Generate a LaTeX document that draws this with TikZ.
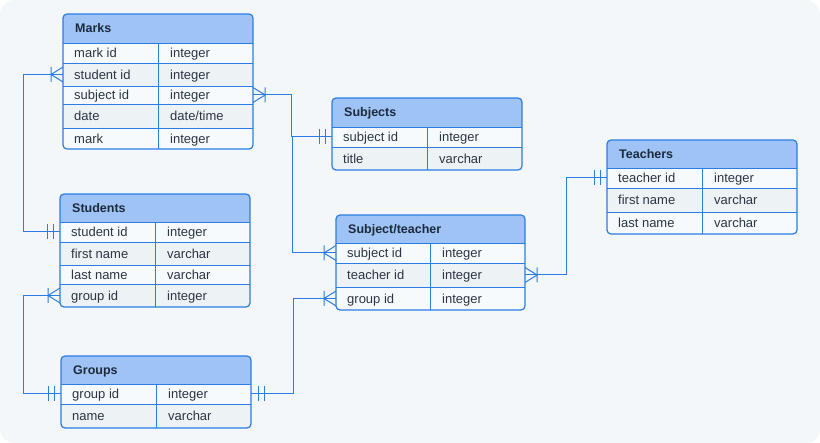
\documentclass[tikz,border=0pt]{standalone}
\usepackage{fontspec}
\setmainfont{Liberation Sans}
\definecolor{bg}{HTML}{F3F7FA}
\definecolor{lineblue}{HTML}{2B7DE3}
\definecolor{headfill}{HTML}{9FC3F5}
\definecolor{rowa}{HTML}{F7FAFC}
\definecolor{rowb}{HTML}{EDF2F4}
\definecolor{ink}{HTML}{2B3544}
\definecolor{titleink}{HTML}{1C2A3D}
\tikzset{
  link/.style={line width=1pt, draw=lineblue},
  grid/.style={line width=.9pt, draw=lineblue},
  border/.style={line width=1.2pt, draw=lineblue},
  headbox/.style={fill=headfill, inner sep=0pt, outer sep=0pt},
  rowbox/.style={inner sep=0pt, outer sep=0pt},
  fieldtext/.style={anchor=base west, inner sep=0pt, text=ink, font=\fontsize{13}{15}\selectfont},
  titletext/.style={anchor=base west, inner sep=0pt, text=titleink, font=\bfseries\fontsize{12.5}{15}\selectfont},
  crow/.pic={\draw[link] (-12,-7.5)--(-12,7.5) (0,-7.5)--(-12,0)--(0,7.5);},
  bars/.pic={\draw[link] (-7,-7.5)--(-7,7.5) (-13,-7.5)--(-13,7.5);},
}
% #1 name, #2 left, #3 divider, #4 right, #5 top, #6 head bottom, #7 bottom, #8 title, #9 rows
\newcommand\ertable[9]{%
  \begin{scope}
    \clip[rounded corners=4pt] (#2,#5) rectangle (#4,#7);
    \node[headbox, minimum width={(#4-#2)*1pt}, minimum height={(#6-#5)*1pt}] (#1) at ({(#2+#4)/2},{(#5+#6)/2}) {};
    \foreach \ya/\yb/\sh/\key/\fld/\typ in {#9}
    {
        \node[rowbox, fill=\sh, minimum width={(#4-#2)*1pt}, minimum height={(\yb-\ya)*1pt}] (#1-\key) at ({(#2+#4)/2},{(\ya+\yb)/2}) {};
    }
  \end{scope}
  \foreach \ya/\yb/\sh/\key/\fld/\typ in {#9}
  {
      \draw[grid] (#2,\ya) -- (#4,\ya);
      \node[fieldtext] (#1-\key-f) at ({#2+11},{(\ya+\yb)/2+5}) {\fld};
      \node[fieldtext] (#1-\key-t) at ({#3+12},{(\ya+\yb)/2+5}) {\typ};
  }
  \draw[grid] (#3,#6) -- (#3,#7);
  \draw[border, rounded corners=4pt] (#2,#5) rectangle (#4,#7);
  \node[titletext] (#1-title) at ({#2+12},{(#5+#6)/2+4.5}) {#8};
}
\begin{document}
\begin{tikzpicture}[x=1pt, y=-1pt]
\useasboundingbox (0,0) rectangle (820,443);
\fill[bg, rounded corners=14pt] (0,0) rectangle (820,443);

\ertable{marks}{63}{158}{253}{14}{43}{149}{Marks}{43/63/rowa/id/mark id/integer,
  63/86/rowb/student/student id/integer, 86/104/rowa/subject/subject id/integer,
  104/128/rowb/date/date/{date/time}, 128/149/rowa/mark/mark/integer}
\ertable{students}{60}{155}{250}{194}{222}{307}{Students}{222/242/rowa/student/student id/integer,
  242/265/rowb/first/first name/varchar, 265/284/rowa/last/last name/varchar,
  284/307/rowb/group/group id/integer}
\ertable{groups}{61}{156}{251}{356}{384}{428}{Groups}{384/404/rowa/group/group id/integer,
  404/428/rowb/name/name/varchar}
\ertable{subjects}{332}{427}{522}{98}{127}{170}{Subjects}{127/147/rowa/subject/subject id/integer,
  147/170/rowb/title/title/varchar}
\ertable{st}{336}{430}{525}{215}{243}{310}{Subject/teacher}{243/263/rowa/subject/subject id/integer,
  263/287/rowb/teacher/teacher id/integer, 287/310/rowa/group/group id/integer}
\ertable{teachers}{607}{702}{797}{140}{168}{234}{Teachers}{168/188/rowa/teacher/teacher id/integer,
  188/212/rowb/first/first name/varchar, 212/234/rowa/last/last name/varchar}

% relations
\draw[link] (marks-student.west) -- ++(-40,0) |- (students-student.west);
\draw[link] (students-group.west) -- ++(-37,0) |- (groups-group.west);
\draw[link] (groups-group.east) -- ++(42,0) |- (st-group.west);
\draw[link] (marks-subject.east) -- ++(38,0) |- (subjects-subject.west);
\draw[link] (subjects-subject.west) -- ++(-40,0) |- (st-subject.west);
\draw[link] (st-teacher.east) -- ++(41,0) |- (teachers-teacher.west);

\pic at (marks-student.west) {crow};
\pic at (students-student.west) {bars};
\pic at (students-group.west) {crow};
\pic at (groups-group.west) {bars};
\pic[rotate=180] at (groups-group.east) {bars};
\pic at (st-group.west) {crow};
\pic[rotate=180] at (marks-subject.east) {crow};
\pic at (subjects-subject.west) {bars};
\pic at (st-subject.west) {crow};
\pic[rotate=180] at (st-teacher.east) {crow};
\pic at (teachers-teacher.west) {bars};
\end{tikzpicture}
\end{document}
